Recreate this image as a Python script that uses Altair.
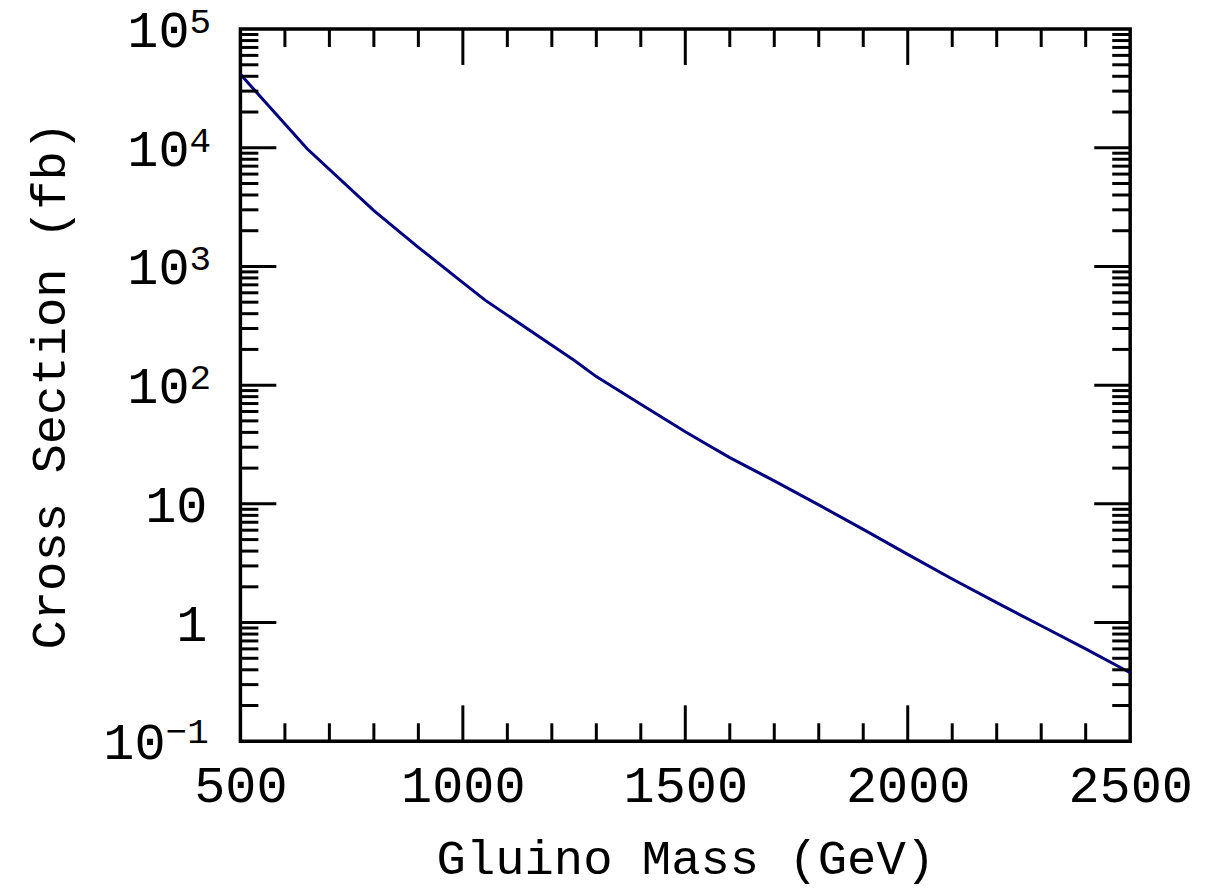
import altair as alt
import pandas as pd

# ---- data ----
mass = [500, 650, 800, 900, 1000, 1050, 1200, 1250, 1300, 1400, 1500, 1550,
        1600, 1700, 1800, 1900, 2000, 2100, 2200, 2300, 2400, 2500]
xsec = [41600, 9800, 2950, 1450, 730, 520, 217, 162, 118, 69, 40.5, 31.5,
        24.5, 15.6, 9.8, 6.1, 3.75, 2.33, 1.47, 0.94, 0.60, 0.378]

x_label_vals = [500, 1000, 1500, 2000, 2500]
x_major_ticks = [1000, 1500, 2000]
x_minor_ticks = [600, 700, 800, 900, 1100, 1200, 1300, 1400,
                 1600, 1700, 1800, 1900, 2100, 2200, 2300, 2400]
y_major_ticks = [1, 10, 100, 1000, 10000]
decades = [0.1, 1, 10, 100, 1000, 10000]
minor_mult = [2, 3, 4, 5, 6, 7, 8, 9]
y_minor_ticks = [d * m for d in decades for m in minor_mult]

exp_vals = [1e5, 1e4, 1e3, 1e2]
exp_txt = ["5", "4", "3", "2"]
neg_vals = [0.1]
neg_txt = ["\u22121"]
plain_vals = [10, 1]
plain_txt = ["10", "1"]

FONT = "Liberation Mono"
W, H = 892, 714
MAJ, MIN = 36, 18
INK = "black"

xs = alt.Scale(domain=[500, 2500], nice=False, zero=False)
ys = alt.Scale(type="log", domain=[0.1, 1e5], nice=False)

X = alt.X("m:Q", scale=xs, axis=alt.Axis(
    values=x_label_vals, format="d", labelFont=FONT, labelFontSize=52,
    labelColor=INK, labelPadding=19, labelFlush=False, labelOverlap=False,
    labelBound=False, ticks=False, domain=False, grid=False,
    title="Gluino Mass (GeV)", titleFont=FONT, titleFontSize=49,
    titleFontWeight="normal", titleColor=INK, titlePadding=24))
Y = alt.Y("v:Q", scale=ys, axis=alt.Axis(
    labels=False, ticks=False, domain=False, grid=False,
    title="Cross Section (fb)", titleFont=FONT, titleFontSize=49,
    titleFontWeight="normal", titleColor=INK, titlePadding=166))

curve = pd.DataFrame({"m": mass, "v": xsec})
line = alt.Chart(curve).mark_line(color="#000080", strokeWidth=3).encode(x=X, y=Y)

def xt(vals, length):
    df = pd.DataFrame({"m": vals})
    bot = alt.Chart(df).mark_rule(color=INK, strokeWidth=3).encode(
        x=X, y=alt.value(H), y2=alt.value(H - length))
    top = alt.Chart(df).mark_rule(color=INK, strokeWidth=3).encode(
        x=X, y=alt.value(0), y2=alt.value(length))
    return [bot, top]

def yt(vals, length):
    df = pd.DataFrame({"v": vals})
    left = alt.Chart(df).mark_rule(color=INK, strokeWidth=3).encode(
        y=Y, x=alt.value(0), x2=alt.value(length))
    right = alt.Chart(df).mark_rule(color=INK, strokeWidth=3).encode(
        y=Y, x=alt.value(W), x2=alt.value(W - length))
    return [left, right]

def txt(vals, texts, xpos, size, align, dy=0):
    df = pd.DataFrame({"v": vals, "t": texts})
    return alt.Chart(df).mark_text(font=FONT, fontSize=size, align=align,
                                   baseline="middle", color=INK, dy=dy).encode(
        y=Y, x=alt.value(xpos), text="t:N")

layers = [line]
layers += xt(x_minor_ticks, MIN) + xt(x_major_ticks, MAJ)
layers += yt(y_minor_ticks, MIN) + yt(y_major_ticks, MAJ)
layers += [
    txt(exp_vals, ["10"] * len(exp_vals), -51, 52, "right", 2),
    txt(exp_vals, exp_txt, -51, 36, "left", -7),
    txt(neg_vals, ["10"], -75, 52, "right", 2),
    txt(neg_vals, neg_txt, -75, 36, "left", -9),
    txt(plain_vals, plain_txt, -33, 52, "right", 2),
]

chart = alt.layer(*layers).properties(
    width=W, height=H,
    autosize=alt.AutoSizeParams(type="none"),
    padding={"left": 233, "top": 20, "right": 68, "bottom": 142},
).configure(background="white").configure_view(stroke=INK, strokeWidth=3.5)

chart.save("out.html", embed_options={"renderer": "svg", "actions": False})
